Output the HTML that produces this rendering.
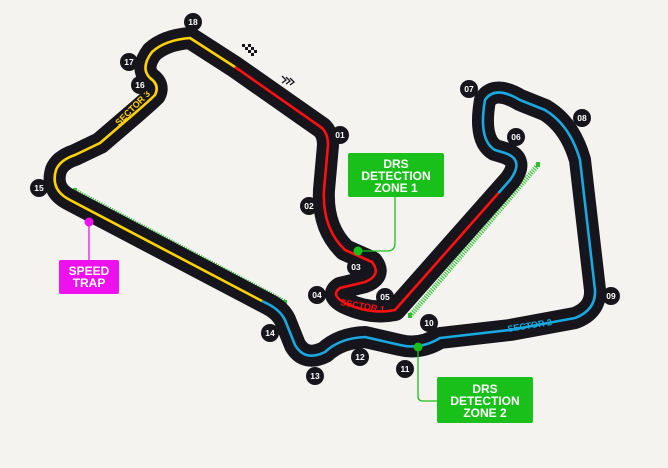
<!DOCTYPE html>
<html><head><meta charset="utf-8"><style>
html,body{margin:0;padding:0;background:#f4f3f0;}
svg{display:block;}
.b text{font-family:"Liberation Sans",sans-serif;font-weight:bold;font-size:8.5px;fill:#fff;text-anchor:middle;}
</style></head><body>
<svg width="668" height="468" viewBox="0 0 668 468">
<rect width="668" height="468" fill="#f4f3f0"/>
<!-- DRS dashed lines -->
<g stroke="#3cc43c" stroke-width="5" stroke-dasharray="1.2 1.2" fill="none">
<line x1="75" y1="191" x2="285" y2="302"/>
<line x1="410" y1="316" x2="538" y2="165"/>
</g>
<rect x="73" y="188" width="4" height="5" fill="#2fbf2f"/>
<rect x="283" y="300" width="4" height="5" fill="#2fbf2f"/>
<rect x="408" y="313" width="4" height="5" fill="#2fbf2f"/>
<rect x="536" y="162" width="4" height="5" fill="#2fbf2f"/>
<!-- track -->
<path d="M190,38 L235,67 L322,128 Q328,134 328,145 L324,190 Q322,228 345,250 L372,262 Q382,275 365,282 L340,288 Q330,295 345,303 Q370,315 395,310 L510,180 Q525,160 505,153 L495,150 Q478,140 485,100 Q495,85 520,100 L545,110 Q570,125 580,160 L595,290 Q596,310 575,318 L510,330 L440,338 Q420,350 400,345 L365,337 Q340,338 325,352 Q305,362 295,345 L285,320 Q280,310 268,304 L70,200 Q50,190 56,170 Q60,160 75,155 L100,143 L135,113 Q150,100 155,95 Q160,85 150,78 Q140,68 152,52 Q165,40 190,38 Z" fill="none" stroke="#16151c" stroke-width="22" stroke-linejoin="round"/>
<g fill="none" stroke-width="2.6" stroke-linejoin="round">
<path d="M235,67 L322,128 Q328,134 328,145 L324,190 Q322,228 345,250 L372,262 Q382,275 365,282 L340,288 Q330,295 345,303 Q370,315 395,310 L498.5,193" stroke="#ff1010"/>
<path d="M498.5,193 L510,180 Q525,160 505,153 L495,150 Q478,140 485,100 Q495,85 520,100 L545,110 Q570,125 580,160 L595,290 Q596,310 575,318 L510,330 L440,338 Q420,350 400,345 L365,337 Q340,338 325,352 Q305,362 295,345 L285,320 Q280,310 268,304 L262,301" stroke="#1aa8e0"/>
<path d="M262,301 L70,200 Q50,190 56,170 Q60,160 75,155 L100,143 L135,113 Q150,100 155,95 Q160,85 150,78 Q140,68 152,52 Q165,40 190,38 L235,67" stroke="#ffd200"/>
</g>
<!-- sector labels -->
<g font-family="Liberation Sans,sans-serif" font-weight="bold" font-size="9px">
<text x="340" y="305" fill="#ff1010" transform="rotate(10 340 305)">SECTOR 1</text>
<text x="508" y="332" fill="#1aa8e0" transform="rotate(-9 508 332)">SECTOR 2</text>
<text x="119" y="126" fill="#ffd200" transform="rotate(-45 119 126)">SECTOR 3</text>
</g>
<!-- flag & chevrons -->
<g fill="#16151c">
<rect x="242" y="44" width="3" height="3"/><rect x="248" y="44" width="3" height="3"/>
<rect x="245" y="47" width="3" height="3"/><rect x="251" y="47" width="3" height="3"/>
<rect x="248" y="50" width="3" height="3"/><rect x="254" y="50" width="3" height="3"/>
<rect x="251" y="53" width="3" height="3"/>
</g>
<g fill="none" stroke="#16151c" stroke-width="1.3">
<path d="M282,76 l4,4 l-4,3"/><path d="M286,77 l4,4 l-4,3"/><path d="M290,78 l4,4 l-4,3"/>
</g>
<!-- badges -->
<g class="b">
<g fill="#16151c">
<circle cx="193" cy="22" r="9"/><circle cx="129" cy="62" r="9"/><circle cx="140" cy="85" r="9"/>
<circle cx="39" cy="188" r="9"/><circle cx="340" cy="135" r="9"/><circle cx="309" cy="206" r="9"/>
<circle cx="356" cy="267" r="9"/><circle cx="317" cy="295" r="9"/><circle cx="385" cy="297" r="9"/>
<circle cx="516" cy="137" r="9"/><circle cx="469" cy="89" r="9"/><circle cx="582" cy="118" r="9"/>
<circle cx="611" cy="296" r="9"/><circle cx="429" cy="323" r="9"/><circle cx="405" cy="369" r="9"/>
<circle cx="360" cy="357" r="9"/><circle cx="315" cy="376" r="9"/><circle cx="270" cy="333" r="9"/>
</g>
<text x="193" y="25">18</text><text x="129" y="65">17</text><text x="140" y="88">16</text>
<text x="39" y="191">15</text><text x="340" y="138">01</text><text x="309" y="209">02</text>
<text x="356" y="270">03</text><text x="317" y="298">04</text><text x="385" y="300">05</text>
<text x="516" y="140">06</text><text x="469" y="92">07</text><text x="582" y="121">08</text>
<text x="611" y="299">09</text><text x="429" y="326">10</text><text x="405" y="372">11</text>
<text x="360" y="360">12</text><text x="315" y="379">13</text><text x="270" y="336">14</text>
</g>
<!-- DRS zone 1 -->
<path d="M395,197 L395,243 Q395,251 387,251 L358,251" fill="none" stroke="#19c019" stroke-width="1.3"/>
<circle cx="358" cy="251" r="4.5" fill="#19c019"/>
<rect x="348" y="153" width="96" height="44" rx="2" fill="#19c019"/>
<g font-family="Liberation Sans,sans-serif" font-weight="bold" font-size="12px" fill="#fff" text-anchor="middle">
<text x="396" y="168">DRS</text><text x="396" y="180">DETECTION</text><text x="396" y="192">ZONE 1</text>
</g>
<!-- DRS zone 2 -->
<path d="M418,347 L418,396 Q418,401 423,401 L437,401" fill="none" stroke="#19c019" stroke-width="1.3"/>
<circle cx="418" cy="347" r="4.5" fill="#19c019"/>
<rect x="437" y="377" width="96" height="46" rx="2" fill="#19c019"/>
<g font-family="Liberation Sans,sans-serif" font-weight="bold" font-size="12px" fill="#fff" text-anchor="middle">
<text x="485" y="393">DRS</text><text x="485" y="405">DETECTION</text><text x="485" y="417">ZONE 2</text>
</g>
<!-- speed trap -->
<line x1="89" y1="222" x2="89" y2="260" stroke="#ee10ee" stroke-width="1.3"/>
<circle cx="89" cy="222" r="4.5" fill="#ee10ee"/>
<rect x="59" y="260" width="60" height="34" rx="2" fill="#ee10ee"/>
<g font-family="Liberation Sans,sans-serif" font-weight="bold" font-size="12px" fill="#fff" text-anchor="middle">
<text x="89" y="275">SPEED</text><text x="89" y="287">TRAP</text>
</g>
</svg>
</body></html>
